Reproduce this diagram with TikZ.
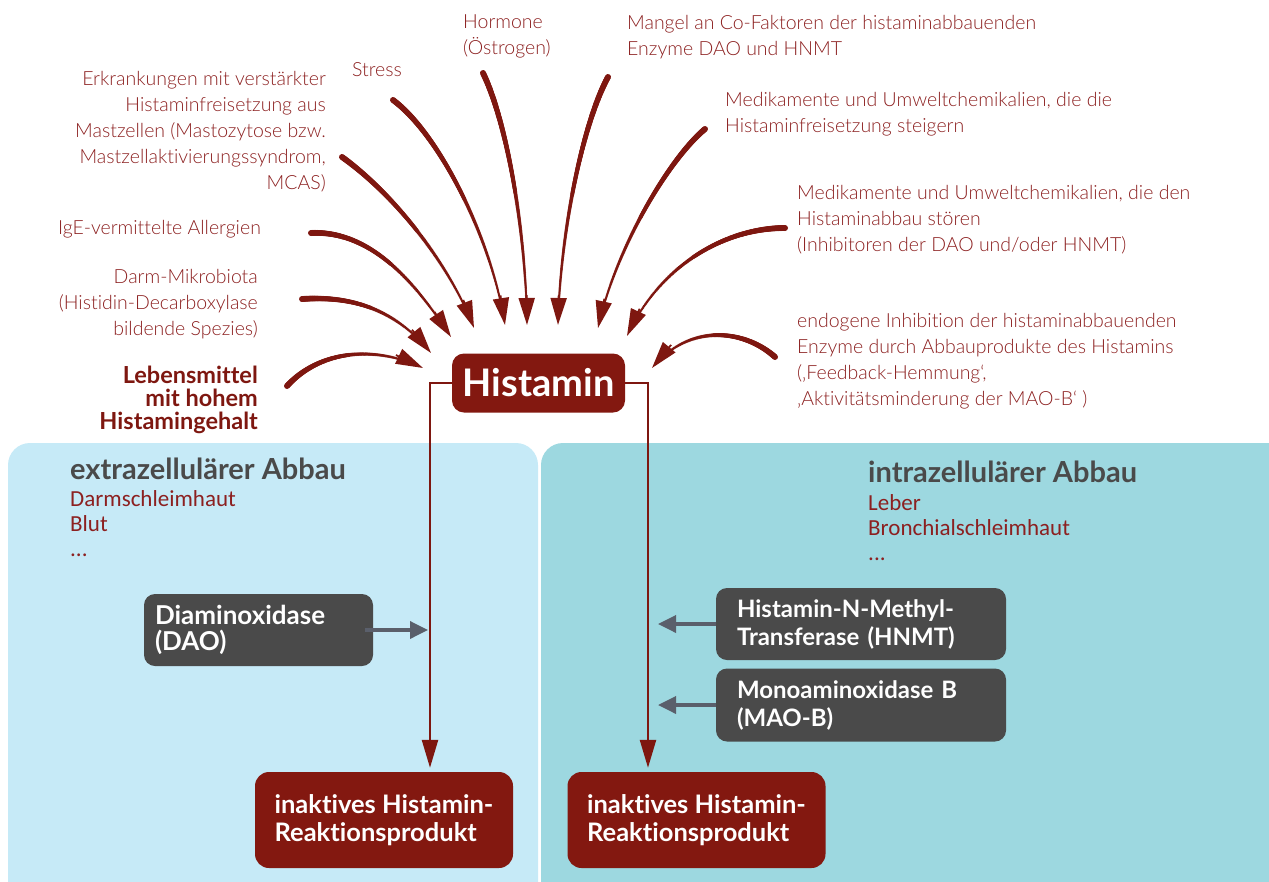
\documentclass[tikz,border=0pt]{standalone}
\usepackage{fontspec}
\setmainfont{Lato}[Ligatures=NoCommon]
\IfFontExistsTF{Lato Light}{\newfontfamily\lbfont{Lato Light}[Ligatures=NoCommon]}{\newfontfamily\lbfont{Lato}[Ligatures=NoCommon]}
\newfontfamily\carl{Carlito}
\usetikzlibrary{arrows.meta,decorations.markings,calc}
\definecolor{arr}{HTML}{7E1710}
\definecolor{txtred}{HTML}{8C2020}
\definecolor{hred}{HTML}{831810}
\definecolor{panelL}{HTML}{C6EAF7}
\definecolor{panelR}{HTML}{9DD8E0}
\definecolor{boxgray}{HTML}{4A4A4A}
\definecolor{arrgray}{HTML}{5A5F6B}
\definecolor{headgray}{HTML}{4A4A4A}
\tikzset{
  lbl/.style={text=txtred,font=\lbfont\fontsize{19.5}{26}\selectfont,inner sep=0pt},
  lblL/.style={lbl,anchor=north east,align=right},
  lblR/.style={lbl,anchor=north west,align=left},
  taper/.style={postaction={decorate,decoration={markings,
      mark=between positions 0 and -27pt step 0.8pt with {%
        \pgfmathsetmacro{\tpr}{#1-(#1-0.9)*\pgfkeysvalueof{/pgf/decoration/mark info/distance from start}/\pgfdecoratedpathlength}%
        \fill[arr] (0pt,0pt) circle[radius=\tpr pt];}}}},
  tipline/.style={draw=arr,line width=1.8pt,-{Triangle[length=27pt,width=16pt]}},
  histbox/.style={fill=hred,text=white,rounded corners=12pt,minimum width=173pt,
    minimum height=59pt,inner sep=0pt,font=\bfseries\fontsize{38}{40}\selectfont},
  redbox/.style={fill=hred,text=white,rounded corners=14pt,minimum width=258pt,
    minimum height=96pt,inner sep=0pt,align=left,font=\bfseries\fontsize{25.5}{28}\selectfont},
  graybox/.style={fill=boxgray,text=white,rounded corners=11pt,minimum height=72pt,
    inner ysep=0pt,align=left,font=\bfseries\fontsize{24}{28}\selectfont},
  redline/.style={draw=arr,line width=2.4pt,-{Triangle[length=28pt,width=16pt]},shorten >=4pt},
  grayarr/.style={draw=arrgray,line width=3.5pt,-{Triangle[length=18pt,width=17pt]}},
  heading/.style={text=headgray,font=\bfseries\fontsize{29}{30}\selectfont,inner sep=0pt,anchor=north west},
  sub/.style={text=txtred,font=\carl\fontsize{23}{25}\selectfont,inner sep=0pt,anchor=north west,align=left}
}
% tapered curved arrow: start, control 1, control 2, tip
\newcommand{\taperarrow}[4]{%
  \path[taper=3.0] (#1) .. controls (#2) and (#3) .. (#4);
  \draw[tipline] ($(#4)!30pt!(#3)$) -- (#4);
}
\begin{document}
\begin{tikzpicture}[x=1pt,y=-1pt]
\path[use as bounding box] (0,0) rectangle (1269,881);
\clip (0,0) rectangle (1269,881);
% panels
\fill[panelL,rounded corners=22pt] (8,443) rectangle (538,920);
\fill[panelR,rounded corners=22pt] (541,443) rectangle (1300,920);

% labels
\node[lblL] (erk) at (326,71) {Erkrankungen mit verstärkter\\Histaminfreisetzung aus\\Mastzellen (Mastozytose bzw.\\Mastzellaktivierungssyndrom,\\MCAS)};
\node[lblR] (stress) at (352,62) {Stress};
\node[lblL] (ige) at (261,220) {IgE-vermittelte Allergien};
\node[lblL] (darm) at (258,269) {Darm-Mikrobiota\\(Histidin-Decarboxylase\\bildende Spezies)};
\node[inner sep=0pt,anchor=north east,align=right,text=arr,font=\bfseries\fontsize{23.5}{23}\selectfont] (leb) at (258,366) {Lebensmittel\\mit hohem\\Histamingehalt};
\node[lblR] (horm) at (463,15) {Hormone\\(Östrogen)};
\node[lblR] (mang) at (627,15) {Mangel an Co-Faktoren der histaminabbauenden\\Enzyme DAO und HNMT};
\node[lblR] (steig) at (725,92) {Medikamente und Umweltchemikalien, die die\\Histaminfreisetzung steigern};
\node[lblR] (stoer) at (797,185) {Medikamente und Umweltchemikalien, die den\\Histaminabbau stören\\(Inhibitoren der DAO und/oder HNMT)};
\node[lblR] (endo) at (797,313) {endogene Inhibition der histaminabbauenden\\Enzyme durch Abbauprodukte des Histamins\\(‚Feedback-Hemmung‘,\\‚Aktivitätsminderung der MAO-B‘ )};

% central node
\node[histbox] (hist) at (538.5,383) {Histamin};

% curved arrows
\coordinate (s1) at (287,386); \coordinate (t1) at (423,368);
\coordinate (s2) at (302,299); \coordinate (t2) at (431,353);
\coordinate (s3) at (311,233); \coordinate (t3) at (451,337);
\coordinate (s4) at (342,157); \coordinate (t4) at (474,328);
\coordinate (s5) at (393,100); \coordinate (t5) at (505,325);
\coordinate (s6) at (483,73);  \coordinate (t6) at (527,325);
\coordinate (s7) at (608,77);  \coordinate (t7) at (558,325);
\coordinate (s8) at (705,129); \coordinate (t8) at (598,328);
\coordinate (s9) at (785,228); \coordinate (t9) at (627,336);
\coordinate (s10) at (775,357); \coordinate (t10) at (652,368);
\taperarrow{s1}{320,350}{375,345}{t1}
\taperarrow{s2}{360,295}{400,315}{t2}
\taperarrow{s3}{375,230}{420,290}{t3}
\taperarrow{s4}{395,195}{450,265}{t4}
\taperarrow{s5}{440,135}{492,240}{t5}
\taperarrow{s6}{508,125}{526,235}{t6}
\taperarrow{s7}{582,125}{560,235}{t7}
\taperarrow{s8}{668,160}{615,250}{t8}
\taperarrow{s9}{725,228}{660,265}{t9}
\taperarrow{s10}{745,330}{690,322}{t10}

% panel headings
\node[heading] (hext) at (70,458) {extrazellulärer Abbau};
\node[sub] (sext) at (70,490) {Darmschleimhaut\\Blut\\...};
\node[heading] (hint) at (868,461) {intrazellulärer Abbau};
\node[sub] (sint) at (868,494) {Leber\\Bronchialschleimhaut\\...};

% enzyme boxes
\node[graybox,minimum width=229pt,text width=207pt,inner xsep=11pt,font=\bfseries\fontsize{26}{26}\selectfont] (dao) at (258.5,630) {Diaminoxidase\\(DAO)};
\node[graybox,minimum width=290pt,text width=248pt,inner xsep=21pt] (hnmt) at (861,624) {Histamin-N-Methyl-\\Transferase (HNMT)};
\node[graybox,minimum width=290pt,text width=248pt,inner xsep=21pt,minimum height=73pt] (mao) at (861,705) {Monoaminoxidase B\\(MAO-B)};

% product boxes
\node[redbox] (inak1) at (384,820) {inaktives Histamin-\\Reaktionsprodukt};
\node[redbox] (inak2) at (696.5,820) {inaktives Histamin-\\Reaktionsprodukt};

% red flow lines
\draw[redline] (hist.west) -| ([xshift=46pt]inak1.north);
\draw[redline] (hist.east) -| ([xshift=-48.5pt]inak2.north);

% gray enzyme arrows
\coordinate (daoT) at (428,630);
\coordinate (hnmtT) at (658,624);
\coordinate (maoT) at (658,705);
\draw[grayarr] ([xshift=-8pt]dao.east) -- (daoT);
\draw[grayarr] (hnmt.west) -- (hnmtT);
\draw[grayarr] (mao.west) -- (maoT);
\end{tikzpicture}
\end{document}
